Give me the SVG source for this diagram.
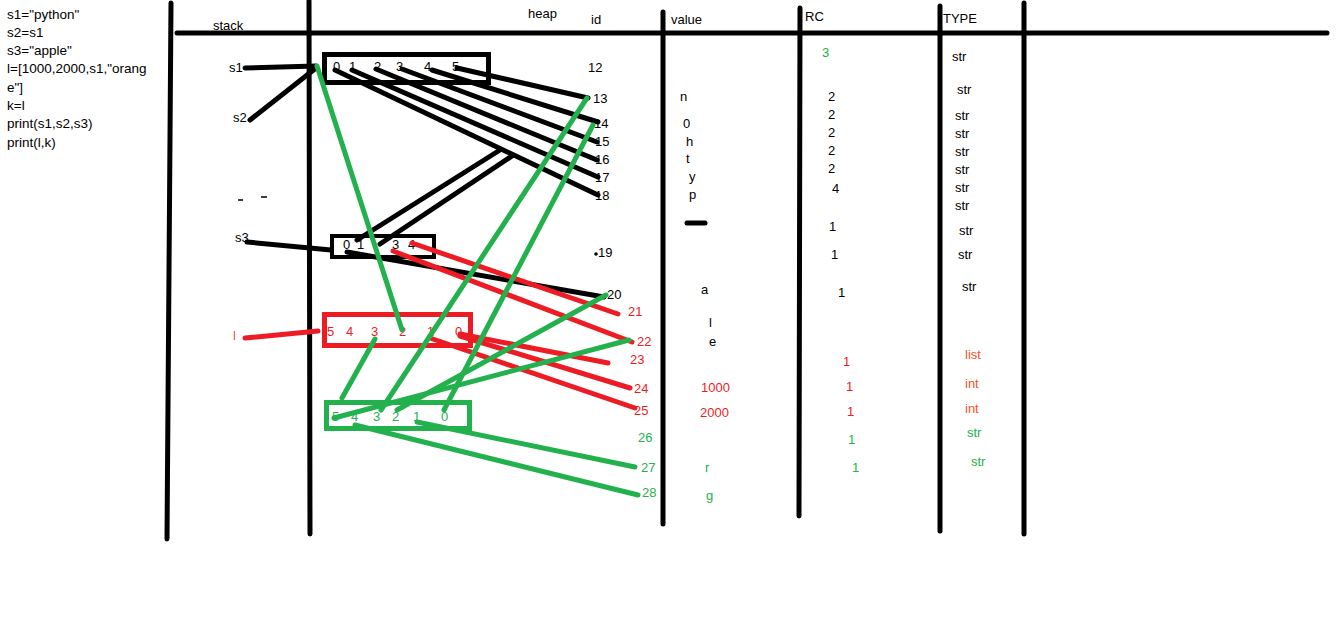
<svg xmlns="http://www.w3.org/2000/svg" width="1344" height="619" viewBox="0 0 1344 619">
<style>
text{font-family:"Liberation Sans",Arial,sans-serif;font-size:13px;fill:#000}
.code{font-size:13.5px}
.red{fill:#ed1c24}
.org{fill:#f4512c}
.grn{fill:#22b14c}
.frame{stroke:#000;stroke-width:5;stroke-linecap:round;fill:none}
.kb{stroke:#000;stroke-width:5;stroke-linecap:round;fill:none}
.kr{stroke:#ed1c24;stroke-width:5;stroke-linecap:round;fill:none}
.kg{stroke:#22b14c;stroke-width:5;stroke-linecap:round;fill:none}
</style>
<rect width="1344" height="619" fill="#fff"/>

<g id="code">
<text class="code" x="7" y="19">s1="python"</text>
<text class="code" x="7" y="37">s2=s1</text>
<text class="code" x="7" y="55">s3="apple"</text>
<text class="code" x="7" y="73">l=[1000,2000,s1,"orang</text>
<text class="code" x="7" y="92">e"]</text>
<text class="code" x="7" y="110">k=l</text>
<text class="code" x="7" y="128">print(s1,s2,s3)</text>
<text class="code" x="7" y="147">print(l,k)</text>
</g>

<g id="frame">
<line class="frame" x1="171" y1="3" x2="167" y2="539"/>
<line class="frame" x1="309" y1="1" x2="310" y2="534"/>
<line class="frame" x1="663" y1="12" x2="663" y2="524"/>
<line class="frame" x1="800" y1="8" x2="799" y2="516"/>
<line class="frame" x1="940" y1="6" x2="940" y2="531"/>
<line class="frame" x1="1024" y1="3" x2="1024" y2="534"/>
<line class="frame" x1="177" y1="33" x2="1327" y2="33"/>
<text x="213" y="30">stack</text>
<text x="528" y="18">heap</text>
<text x="591" y="24">id</text>
<text x="671" y="24">value</text>
<text x="805" y="21">RC</text>
<text x="943" y="23">TYPE</text>
<line x1="238" y1="200" x2="243" y2="200" stroke="#000" stroke-width="1.5"/>
<line x1="261" y1="197" x2="267" y2="197" stroke="#000" stroke-width="1.5"/>
</g>

<g id="stack-vars">
<text x="229" y="72">s1</text>
<text x="233" y="122">s2</text>
<text x="235" y="242">s3</text>
<text class="org" x="233" y="340">l</text>
</g>

<g id="box-python">
<rect x="324.5" y="54.5" width="164" height="28" fill="none" stroke="#000" stroke-width="5"/>
<text x="333" y="71">0</text>
<text x="349" y="71">1</text>
<text x="374" y="71">2</text>
<text x="396" y="71">3</text>
<text x="424" y="71">4</text>
<text x="452" y="71">5</text>
</g>

<g id="box-apple">
<rect x="332" y="236" width="102" height="21" fill="none" stroke="#000" stroke-width="4"/>
<text x="343" y="249">0</text>
<text x="357" y="249">1</text>
<text x="392" y="249">3</text>
<text x="408" y="249">4</text>
</g>

<g id="box-list">
<rect x="324.5" y="314.5" width="146" height="31" fill="none" stroke="#ed1c24" stroke-width="5"/>
<text class="red" x="327" y="336">5</text>
<text class="red" x="346" y="336">4</text>
<text class="red" x="371" y="336">3</text>
<text class="red" x="399" y="336">2</text>
<text class="red" x="427" y="336">1</text>
<text class="red" x="455" y="336">0</text>
</g>

<g id="box-orange">
<rect x="326.5" y="402.5" width="143" height="26" fill="none" stroke="#22b14c" stroke-width="5"/>
<text class="grn" x="332" y="421">5</text>
<text class="grn" x="351" y="421">4</text>
<text class="grn" x="373" y="421">3</text>
<text class="grn" x="392" y="421">2</text>
<text class="grn" x="413" y="421">1</text>
<text class="grn" x="441" y="421">0</text>
</g>

<g id="connectors">
<line class="kb" x1="245" y1="68" x2="316" y2="66"/>
<line class="kb" x1="250" y1="120" x2="316" y2="68"/>
<line class="kb" x1="457" y1="68" x2="588" y2="98"/>
<line class="kb" x1="432" y1="70" x2="598" y2="122"/>
<line class="kb" x1="402" y1="69" x2="597" y2="142"/>
<line class="kb" x1="376" y1="69" x2="597" y2="160"/>
<line class="kb" x1="352" y1="70" x2="598" y2="177"/>
<line class="kb" x1="335" y1="70" x2="598" y2="195"/>
<line class="kb" x1="357" y1="240" x2="500" y2="150"/>
<line class="kb" x1="380" y1="244" x2="512" y2="156"/>
<line class="kb" x1="247" y1="242" x2="331" y2="250"/>
<line class="kb" x1="347" y1="252" x2="604" y2="297"/>
<circle cx="596" cy="254" r="1.8" fill="#000"/>
<line class="kb" x1="687" y1="223" x2="705" y2="223"/>
<line class="kr" x1="412" y1="243" x2="618" y2="314"/>
<line class="kr" x1="393" y1="251" x2="632" y2="342"/>
<line class="kr" x1="245" y1="338" x2="318" y2="331"/>
<line class="kr" x1="460" y1="334" x2="608" y2="363"/>
<line class="kr" x1="460" y1="336" x2="630" y2="388"/>
<line class="kr" x1="430" y1="338" x2="635" y2="408"/>
<line class="kg" x1="317" y1="66" x2="402" y2="330"/>
<line class="kg" x1="587" y1="98" x2="381" y2="410"/>
<line class="kg" x1="593" y1="125" x2="444" y2="410"/>
<line class="kg" x1="606" y1="295" x2="397" y2="410"/>
<line class="kg" x1="629" y1="340" x2="334" y2="418"/>
<line class="kg" x1="355" y1="425" x2="638" y2="495"/>
<line class="kg" x1="417" y1="422" x2="635" y2="467"/>
<line class="kg" x1="375" y1="339" x2="342" y2="398"/>
</g>

<g id="ids">
<text x="588" y="72">12</text>
<text x="593" y="103">13</text>
<text x="594" y="128">14</text>
<text x="595" y="146">15</text>
<text x="595" y="164">16</text>
<text x="595" y="182">17</text>
<text x="595" y="200">18</text>
<text x="598" y="257">19</text>
<text x="607" y="299">20</text>
<text class="red" x="628" y="316">21</text>
<text class="red" x="637" y="346">22</text>
<text class="red" x="630" y="364">23</text>
<text class="red" x="634" y="393">24</text>
<text class="red" x="634" y="415">25</text>
<text class="grn" x="638" y="442">26</text>
<text class="grn" x="641" y="472">27</text>
<text class="grn" x="642" y="497">28</text>
</g>

<g id="values">
<text x="680" y="101">n</text>
<text x="683" y="128">0</text>
<text x="686" y="146">h</text>
<text x="686" y="163">t</text>
<text x="689" y="181">y</text>
<text x="689" y="199">p</text>
<text x="701" y="294">a</text>
<text x="709" y="327">l</text>
<text x="709" y="346">e</text>
<text class="red" x="701" y="392">1000</text>
<text class="red" x="700" y="417">2000</text>
<text class="grn" x="705" y="472">r</text>
<text class="grn" x="706" y="500">g</text>
</g>

<g id="rc">
<text class="grn" x="822" y="57">3</text>
<text x="828" y="101">2</text>
<text x="828" y="119">2</text>
<text x="828" y="137">2</text>
<text x="828" y="155">2</text>
<text x="828" y="173">2</text>
<text x="832" y="193">4</text>
<text x="829" y="231">1</text>
<text x="831" y="259">1</text>
<text x="838" y="297">1</text>
<text class="red" x="843" y="366">1</text>
<text class="red" x="846" y="391">1</text>
<text class="red" x="847" y="416">1</text>
<text class="grn" x="848" y="444">1</text>
<text class="grn" x="852" y="472">1</text>
</g>

<g id="types">
<text x="952" y="61">str</text>
<text x="957" y="94">str</text>
<text x="955" y="120">str</text>
<text x="955" y="138">str</text>
<text x="955" y="156">str</text>
<text x="955" y="174">str</text>
<text x="955" y="192">str</text>
<text x="955" y="210">str</text>
<text x="959" y="235">str</text>
<text x="958" y="259">str</text>
<text x="962" y="291">str</text>
<text class="org" x="965" y="359">list</text>
<text class="org" x="965" y="388">int</text>
<text class="org" x="965" y="413">int</text>
<text class="grn" x="967" y="437">str</text>
<text class="grn" x="971" y="466">str</text>
</g>
</svg>
